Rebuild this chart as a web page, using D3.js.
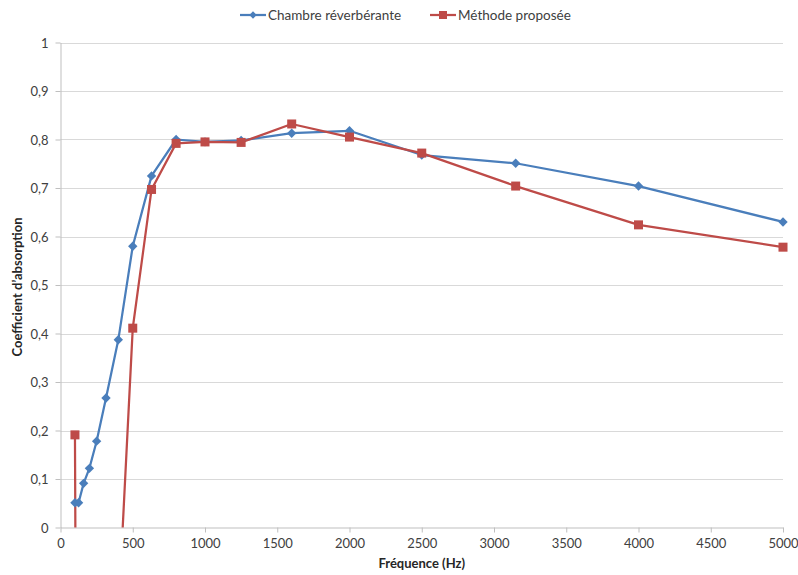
<!DOCTYPE html>
<html><head><meta charset="utf-8">
<script src="https://cdn.jsdelivr.net/npm/d3@7"></script>
<style>
body{margin:0;background:#fff;}
text{font-family:Lato,"Open Sans",sans-serif;}
</style></head>
<body><svg id="c" width="798" height="575"></svg>
<script>
const frequencies = [100,125,160,200,250,315,400,500,630,800,1000,1250,1600,2000,2500,3150,4000,5000];
const chambre = [0.051,0.051,0.091,0.122,0.178,0.267,0.387,0.580,0.725,0.800,0.795,0.798,0.813,0.818,0.768,0.751,0.704,0.630];
// values at 125–400 Hz fall below the visible range (estimated)
const methode = [0.191,-1.5,-1.2,-0.9,-0.6,-0.4,-0.18,0.411,0.697,0.792,0.795,0.794,0.832,0.805,0.772,0.704,0.624,0.578];
const xTicks = [0,500,1000,1500,2000,2500,3000,3500,4000,4500,5000];
const yTicks = [0,0.1,0.2,0.3,0.4,0.5,0.6,0.7,0.8,0.9,1];
const seriesNames = ["Chambre réverbérante","Méthode proposée"];
const colors = ["#4A7EBB","#BE4B48"];

const svg = d3.select("#c");
const L=60.5, R=783, T=42.5, B=527.5;
const x = d3.scaleLinear().domain([0,5000]).range([L,R]);
const y = d3.scaleLinear().domain([0,1]).range([B,T]);

svg.append("defs").append("clipPath").attr("id","clip")
  .append("rect").attr("x",L).attr("y",T-6).attr("width",R-L+8).attr("height",B-T+6);

// grid
svg.append("g").selectAll("line").data(yTicks.slice(1)).join("line")
  .attr("x1",L).attr("x2",R).attr("y1",d=>Math.round(y(d))+0.5).attr("y2",d=>Math.round(y(d))+0.5)
  .attr("stroke","#D9D9D9").attr("stroke-width",1);

// axes
const fmt = d=>String(d).replace(".",",");
const gx = svg.append("g").attr("transform",`translate(0,${B})`)
  .call(d3.axisBottom(x).tickValues(xTicks).tickSize(5).tickSizeOuter(0).tickPadding(6).tickFormat(d=>d));
const gy = svg.append("g").attr("transform",`translate(${L},0)`)
  .call(d3.axisLeft(y).tickValues(yTicks).tickSize(5).tickSizeOuter(0).tickPadding(7).tickFormat(fmt));
[gx,gy].forEach(g=>{
  g.select(".domain").attr("stroke","#BFBFBF");
  g.selectAll(".tick line").attr("stroke","#BFBFBF");
  g.selectAll(".tick text").attr("fill","#404040").attr("font-size","13px").attr("font-family","Lato,'Open Sans',sans-serif");
});
gy.selectAll(".tick text").attr("dy","0.35em");

// lines
const plot = svg.append("g").attr("clip-path","url(#clip)");
const line = d3.line().x(d=>x(d[0])).y(d=>y(d[1]));
const data = [chambre, methode].map(v=>frequencies.map((f,i)=>[f,v[i]]));
data.forEach((d,k)=>{
  plot.append("path").datum(d).attr("d",line).attr("fill","none")
    .attr("stroke",colors[k]).attr("stroke-width",2.25).attr("stroke-linejoin","round");
});
// markers
const diamond = d3.symbol().type(d3.symbolDiamond2).size(56);
plot.append("g").selectAll("path").data(data[0]).join("path")
  .attr("d",diamond).attr("transform",d=>`translate(${x(d[0])},${y(d[1])})`).attr("fill",colors[0]);
plot.append("g").selectAll("rect").data(data[1].filter(d=>d[1]>=0)).join("rect")
  .attr("x",d=>x(d[0])-4.5).attr("y",d=>y(d[1])-4.5).attr("width",9).attr("height",9).attr("fill",colors[1]);

// axis titles
svg.append("text").attr("x",(L+R)/2).attr("y",568).attr("text-anchor","middle")
  .attr("font-size","13px").attr("font-weight","bold").attr("fill","#262626").text("Fréquence (Hz)");
svg.append("text").attr("transform",`translate(22,${(T+B)/2+2}) rotate(-90)`).attr("text-anchor","middle")
  .attr("font-size","13px").attr("font-weight","bold").attr("fill","#262626").text("Coefficient d’absorption");

// legend
const lg = svg.append("g");
const items = [{x:240,name:seriesNames[0],c:colors[0],m:"d"},{x:430,name:seriesNames[1],c:colors[1],m:"s"}];
items.forEach(it=>{
  const g = lg.append("g").attr("transform",`translate(${it.x},15)`);
  g.append("line").attr("x1",0).attr("x2",26).attr("stroke",it.c).attr("stroke-width",2.25);
  if(it.m==="d") g.append("path").attr("d",d3.symbol().type(d3.symbolDiamond2).size(34)).attr("transform","translate(13,0)").attr("fill",it.c);
  else g.append("rect").attr("x",9).attr("y",-4).attr("width",8).attr("height",8).attr("fill",it.c);
  g.append("text").attr("x",28).attr("y",5).attr("font-size","13.5px").attr("fill","#404040").text(it.name);
});
</script></body></html>
